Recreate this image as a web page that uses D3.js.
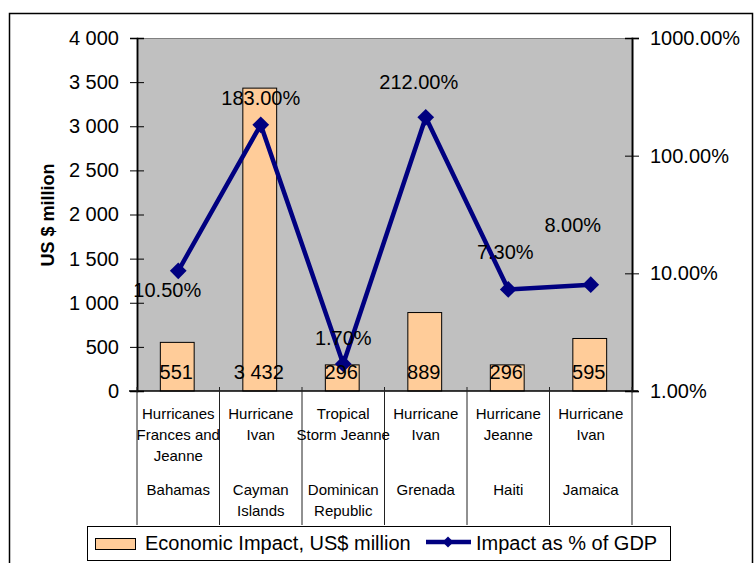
<!DOCTYPE html>
<html><head><meta charset="utf-8">
<script src="https://cdn.jsdelivr.net/npm/d3@7"></script>
<style>body{margin:0;background:#fff}svg{display:block}text{font-family:"Liberation Sans",Arial,sans-serif}</style>
</head><body>
<svg id="chart" width="754" height="563"></svg>
<script>
// ---- data ----
const events = [["Hurricanes","Frances and","Jeanne"],["Hurricane","Ivan"],["Tropical","Storm Jeanne"],["Hurricane","Ivan"],["Hurricane","Jeanne"],["Hurricane","Ivan"]];
const countries = [["Bahamas"],["Cayman","Islands"],["Dominican","Republic"],["Grenada"],["Haiti"],["Jamaica"]];
const economicImpact = [551, 3432, 296, 889, 296, 595];
const gdpImpactPct = [10.5, 183, 1.7, 212, 7.3, 8.0];
const leftTicks = [0,500,1000,1500,2000,2500,3000,3500,4000];
const rightTicks = [1,10,100,1000];
const seriesNames = ["Economic Impact, US$ million","Impact as % of GDP"];
// label placement (layout, not data): offsets of % labels from their markers
const pctLabelOffsets = [[-11,19],[0,-27],[0,-26],[-7,-35],[-3,-37],[-18,-60]];

const svg = d3.select("#chart");
const L = 137, R = 632, T = 38, B = 391;
const idx = d3.range(economicImpact.length);
const x = d3.scaleBand().domain(idx).range([L, R]).padding(0);
const yL = d3.scaleLinear().domain([0, 4000]).range([B, T]);
const yR = d3.scaleLog().domain([1, 1000]).range([B, T]);
const fmtThousands = d => { const s = String(d); return s.length > 3 ? s.slice(0, -3) + " " + s.slice(-3) : s; };
const cx = i => x(i) + x.bandwidth() / 2;

// outer border
svg.append("rect").attr("x", 9.5).attr("y", 13.5).attr("width", 743).attr("height", 600)
  .attr("fill", "none").attr("stroke", "#000").attr("stroke-width", 1.5);

// plot area
svg.append("rect").attr("x", L).attr("y", T).attr("width", R - L).attr("height", B - T).attr("fill", "#C0C0C0");
svg.append("line").attr("x1", L).attr("x2", R).attr("y1", T + 0.5).attr("y2", T + 0.5).attr("stroke", "#808080");

// bars
const bw = x.bandwidth() * 0.41;
svg.append("g").selectAll("rect").data(idx).join("rect")
  .attr("x", i => cx(i) - bw / 2 - 1)
  .attr("y", i => yL(economicImpact[i]))
  .attr("width", bw).attr("height", i => B - yL(economicImpact[i]))
  .attr("fill", "#FFCC99").attr("stroke", "#000").attr("stroke-width", 1);

// left axis (cross ticks)
svg.append("g").attr("transform", `translate(${L},0)`)
  .call(d3.axisLeft(yL).tickValues(leftTicks).tickSize(7).tickPadding(11).tickFormat(fmtThousands));
svg.append("g").attr("transform", `translate(${L},0)`)
  .call(d3.axisRight(yL).tickValues(leftTicks).tickSize(7).tickFormat(""));
// right axis (cross ticks)
const gR = svg.append("g").attr("transform", `translate(${R},0)`)
  .call(d3.axisRight(yR).tickValues(rightTicks).tickSize(7).tickPadding(11).tickFormat(d => d.toFixed(2) + "%"));
svg.append("g").attr("transform", `translate(${R},0)`)
  .call(d3.axisLeft(yR).tickValues(rightTicks).tickSize(7).tickFormat(""));
svg.selectAll(".domain").attr("stroke", "#000").attr("stroke-width", 1.5);
gR.select(".domain").attr("stroke", "#555").attr("stroke-width", 2);
svg.selectAll(".tick line").attr("stroke", "#000");
svg.selectAll(".tick text").attr("font-size", 20).attr("fill", "#000")
  .style("font-family", '"Liberation Sans",Arial,sans-serif');

// x axis line and category separators
svg.append("line").attr("x1", L - 8).attr("x2", R + 6).attr("y1", B).attr("y2", B).attr("stroke", "#000").attr("stroke-width", 1.5);
const bounds = idx.map(i => x(i)).concat([R]);
svg.append("g").selectAll("line").data(bounds).join("line")
  .attr("x1", d => d).attr("x2", d => d).attr("y1", B - 4).attr("y2", 525)
  .attr("stroke", "#222").attr("stroke-width", 1);

// category labels (two levels)
const catG = svg.append("g").attr("font-size", 15).attr("text-anchor", "middle").attr("fill", "#000");
idx.forEach(i => {
  events[i].forEach((ln, k) => catG.append("text").attr("x", cx(i)).attr("y", 419 + k * 21).text(ln));
  countries[i].forEach((ln, k) => catG.append("text").attr("x", cx(i)).attr("y", 494.5 + k * 21).text(ln));
});

// line series
svg.append("path").datum(idx)
  .attr("d", d3.line().x(i => cx(i)).y(i => yR(gdpImpactPct[i])))
  .attr("fill", "none").attr("stroke", "#000080").attr("stroke-width", 4.5).attr("stroke-linejoin", "miter");
svg.append("g").selectAll("path").data(idx).join("path")
  .attr("d", d3.symbol().type(d3.symbolSquare).size(140)())
  .attr("transform", i => `translate(${cx(i)},${yR(gdpImpactPct[i])}) rotate(45)`)
  .attr("fill", "#000080");

// bar value labels
svg.append("g").attr("font-size", 20).attr("text-anchor", "middle").selectAll("text").data(idx).join("text")
  .attr("x", i => cx(i) - 2).attr("y", 372).attr("dy", "0.35em").text(i => fmtThousands(economicImpact[i]));

// percent labels
svg.append("g").attr("font-size", 20).attr("text-anchor", "middle").selectAll("text").data(idx).join("text")
  .attr("x", i => cx(i) + pctLabelOffsets[i][0])
  .attr("y", i => yR(gdpImpactPct[i]) + pctLabelOffsets[i][1]).attr("dy", "0.35em")
  .text(i => gdpImpactPct[i].toFixed(2) + "%");

// y axis title
svg.append("text").attr("transform", "translate(54,215) rotate(-90)").attr("text-anchor", "middle")
  .attr("font-size", 18).attr("font-weight", "bold").text("US $ million");

// legend
const lg = svg.append("g");
lg.append("rect").attr("x", 87.5).attr("y", 526.5).attr("width", 583).attr("height", 34).attr("fill", "#fff").attr("stroke", "#000");
lg.append("rect").attr("x", 95.5).attr("y", 538.5).attr("width", 40).attr("height", 11).attr("fill", "#FFCC99").attr("stroke", "#000");
lg.append("text").attr("x", 145).attr("y", 550).attr("font-size", 20).text(seriesNames[0]);
lg.append("line").attr("x1", 426).attr("x2", 471).attr("y1", 542).attr("y2", 542).attr("stroke", "#000080").attr("stroke-width", 4.5);
lg.append("path").attr("d", d3.symbol().type(d3.symbolSquare).size(60)()).attr("transform", "translate(448,542) rotate(45)").attr("fill", "#000080");
lg.append("text").attr("x", 476).attr("y", 550).attr("font-size", 20).text(seriesNames[1]);
</script>
</body></html>
